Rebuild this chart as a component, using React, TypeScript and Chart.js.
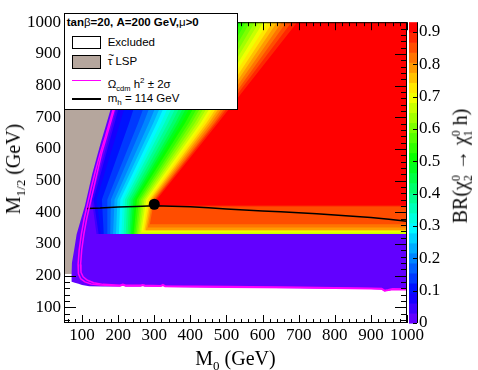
import React, { useEffect, useRef } from 'react';
import { Chart, registerables } from 'chart.js';

Chart.register(...registerables);

// ---------- axis ticks ----------
const xTicks = [100, 200, 300, 400, 500, 600, 700, 800, 900, 1000];
const yTicks = [100, 200, 300, 400, 500, 600, 700, 800, 900, 1000];
const zTicks = [0, 0.1, 0.2, 0.3, 0.4, 0.5, 0.6, 0.7, 0.8, 0.9];

const X_MIN = 50;
const X_MAX = 1000;
const Y_MIN = 50;
const Y_MAX = 1000;
const Z_MAX = 0.93;
const N_LEVELS = 30;

// ---------- BR colour-level contours ----------
// M1/2 rows on which the contour positions were read
const contourRows = [331, 440, 681, 1000];
// M0 of the boundary between level k-1 and level k (k = 1..29) on each row
const contourAt331 = [140, 146, 152, 160, 170, 178, 186, 194, 202, 209, 215, 221, 226, 231, 235, 239, 243, 247, 251, 255, 259, 263, 267, 271, 275, 279, 283, 287, 291];
const contourAt440 = [127, 132, 140, 155, 170, 180, 190, 198, 206, 213, 219, 225, 231, 237, 242, 247, 252, 258, 263, 268, 273, 278, 283, 288, 292, 296, 300, 303, 307];
const contourAt681 = [185, 190, 205, 230, 255, 270, 285, 297, 307, 318, 328, 338, 348, 358, 366, 375, 385, 395, 403, 412, 420, 428, 436, 444, 451, 458, 465, 470, 476];
const contourAt1000 = [255, 265, 285, 320, 355, 378, 400, 418, 432, 447, 462, 476, 490, 503, 516, 528, 540, 553, 565, 578, 590, 602, 615, 628, 640, 653, 666, 680, 696];
// lowest M1/2 at which level k (k = 1..29) appears (horizontal bands near threshold)
const levelFloor = [331, 331, 331, 331, 331, 331, 331, 331, 331, 331, 331, 331, 331, 331, 331, 331, 331, 331, 331, 331, 331, 336, 343, 343, 343, 352, 362, 418, 421];

// ---------- stau LSP region (right edge) ----------
const stauEdgeM0 = [71, 72, 78, 85, 95, 108, 118, 128, 140, 152, 165, 178, 230];
const stauEdgeM12 = [205, 240, 280, 330, 370, 420, 470, 520, 570, 620, 670, 720, 1000];

// ---------- excluded region (lower edge of scanned domain) ----------
const exclEdgeM0 = [71, 71, 80, 90, 100, 120, 160, 205, 213, 221, 262, 268, 274, 318, 324, 330, 500, 700, 900, 930, 938, 948, 960, 1000];
const exclEdgeM12 = [205, 180, 177, 174, 170, 166, 165, 165, 169, 165, 165, 168, 165, 165, 169, 164, 162, 160, 157, 156, 150, 152, 155, 154];

// ---------- Omega h^2 +- 2 sigma lines ----------
const relicLowM0 = [190, 180, 165, 150, 137, 126, 116, 106, 98, 92, 89, 90, 96, 108, 125, 150, 205, 213, 221, 262, 268, 274, 318, 324, 330, 500, 700, 900, 930, 938, 948, 960, 1000];
const relicLowM12 = [740, 700, 640, 585, 530, 480, 430, 380, 330, 280, 235, 205, 190, 180, 173, 170, 167, 170, 167, 167, 169, 167, 166, 169, 165, 163, 161, 158, 157, 151, 153, 156, 155];
const relicHighM0 = [193, 183, 168, 154, 143, 133, 123, 113, 105, 99, 96, 97, 103, 115, 132, 158, 205, 213, 221, 262, 268, 274, 318, 324, 330, 500, 700, 900, 930, 938, 948, 960, 1000];
const relicHighM12 = [740, 700, 640, 585, 530, 480, 430, 380, 330, 280, 235, 210, 196, 185, 177, 172, 169, 172, 169, 169, 171, 169, 168, 171, 167, 165, 163, 160, 159, 153, 155, 158, 157];

// ---------- m_h = 114 GeV line ----------
const mhM0 = [113, 150, 200, 250, 300, 350, 400, 450, 500, 550, 600, 650, 700, 750, 800, 850, 900, 950, 1000];
const mhM12 = [412, 413, 416, 418, 420, 419, 417, 414, 410, 407, 404, 401, 398, 395, 391, 387, 383, 378, 371];

// ---------- benchmark point ----------
const pointM0 = [300];
const pointM12 = [425];

const BROWN = 'rgb(181,166,157)';
const MAGENTA = '#ff00ff';
const SERIF = "'Liberation Serif', 'Times New Roman', serif";
const SANS = "'Liberation Sans', Arial, Helvetica, sans-serif";

function levelColor(k: number) {
  const h = 263 * (1 - k / (N_LEVELS - 1));
  return `hsl(${h.toFixed(1)}, 100%, 50%)`;
}

const contourTable = [contourAt331, contourAt440, contourAt681, contourAt1000];

const heatmapPlugin = {
  id: 'heatmap',
  beforeDatasetsDraw(chart: any) {
    const { ctx, chartArea: a, scales } = chart;
    const x = scales.x;
    const y = scales.y;
    const px = (v: number) => x.getPixelForValue(v);
    const py = (v: number) => y.getPixelForValue(v);
    ctx.save();
    ctx.beginPath();
    ctx.rect(a.left, a.top, a.right - a.left, a.bottom - a.top);
    ctx.clip();

    // level 0 over the whole allowed domain
    ctx.beginPath();
    ctx.moveTo(px(40), py(exclEdgeM12[0]));
    exclEdgeM0.forEach((m0, i) => ctx.lineTo(px(m0), py(exclEdgeM12[i])));
    ctx.lineTo(px(1020), py(exclEdgeM12[exclEdgeM12.length - 1]));
    ctx.lineTo(px(1020), py(1020));
    ctx.lineTo(px(40), py(1020));
    ctx.closePath();
    ctx.fillStyle = levelColor(0);
    ctx.fill();

    // higher levels, nested regions
    for (let k = 1; k < N_LEVELS; k++) {
      ctx.save();
      ctx.beginPath();
      const fy = py(levelFloor[k - 1]);
      ctx.rect(px(40), py(1020), px(1020) - px(40), fy - py(1020));
      ctx.clip();
      ctx.beginPath();
      contourRows.forEach((r, j) => {
        const m0 = contourTable[j][k - 1];
        if (j === 0) ctx.moveTo(px(m0), py(r));
        else ctx.lineTo(px(m0), py(r));
      });
      ctx.lineTo(px(contourAt1000[k - 1]), py(1020));
      ctx.lineTo(px(1020), py(1020));
      ctx.lineTo(px(1020), py(contourRows[0]));
      ctx.closePath();
      ctx.fillStyle = levelColor(k);
      ctx.fill();
      ctx.restore();
    }

    // stau LSP region
    ctx.beginPath();
    ctx.moveTo(px(40), py(stauEdgeM12[0]));
    stauEdgeM0.forEach((m0, i) => ctx.lineTo(px(m0), py(stauEdgeM12[i])));
    ctx.lineTo(px(stauEdgeM0[stauEdgeM0.length - 1]), py(1020));
    ctx.lineTo(px(40), py(1020));
    ctx.closePath();
    ctx.fillStyle = BROWN;
    ctx.fill();
    ctx.restore();
  },
};

const framePlugin = {
  id: 'frame',
  afterDatasetsDraw(chart: any) {
    const { ctx, chartArea: a, scales } = chart;
    const x = scales.x;
    const y = scales.y;
    const z = scales.z;
    ctx.save();
    ctx.strokeStyle = '#000';
    ctx.lineWidth = 1;
    ctx.beginPath();
    for (let v = 60; v <= X_MAX; v += 20) {
      const major = xTicks.includes(v);
      const p = Math.round(x.getPixelForValue(v)) + 0.5;
      const len = major ? 8 : 4;
      ctx.moveTo(p, a.bottom);
      ctx.lineTo(p, a.bottom - len);
      ctx.moveTo(p, a.top);
      ctx.lineTo(p, a.top + len);
    }
    for (let v = 60; v <= Y_MAX; v += 20) {
      const major = yTicks.includes(v);
      const p = Math.round(y.getPixelForValue(v)) + 0.5;
      const len = major ? 12 : 6;
      if (v < 205) {
        ctx.moveTo(a.left, p);
        ctx.lineTo(a.left + len, p);
      }
      ctx.moveTo(a.right, p);
      ctx.lineTo(a.right - len, p);
    }
    ctx.stroke();
    ctx.strokeRect(a.left + 0.5, a.top + 0.5, a.right - a.left - 1, a.bottom - a.top - 1);

    // colour bar
    const cbL = a.right + 2;
    const cbR = a.right + 10;
    for (let k = 0; k < N_LEVELS; k++) {
      const y0 = z.getPixelForValue((k * Z_MAX) / N_LEVELS);
      const y1 = z.getPixelForValue(((k + 1) * Z_MAX) / N_LEVELS);
      ctx.fillStyle = levelColor(k);
      ctx.fillRect(cbL, y1, cbR - cbL, y0 - y1 + 0.6);
    }
    ctx.beginPath();
    ctx.moveTo(cbR + 0.5, a.top);
    ctx.lineTo(cbR + 0.5, a.bottom);
    zTicks.forEach((v) => {
      const p = Math.round(z.getPixelForValue(v)) + 0.5;
      ctx.moveTo(cbR, p);
      ctx.lineTo(cbR - 4, p);
    });
    ctx.stroke();
    ctx.restore();
  },
};

const pts = (xs: number[], ys: number[]) => xs.map((v, i) => ({ x: v, y: ys[i] }));

export default function App() {
  const ref = useRef<HTMLCanvasElement>(null);

  useEffect(() => {
    const canvas = ref.current;
    if (!canvas) return;
    const tickFont = { family: SERIF, size: 17 };
    const chart = new Chart(canvas, {
      type: 'scatter',
      data: {
        datasets: [
          { data: pts(relicLowM0, relicLowM12), showLine: true, borderColor: MAGENTA, borderWidth: 1.5, pointRadius: 0, fill: false },
          { data: pts(relicHighM0, relicHighM12), showLine: true, borderColor: MAGENTA, borderWidth: 1.5, pointRadius: 0, fill: false },
          { data: pts(mhM0, mhM12), showLine: true, borderColor: '#000', borderWidth: 1.5, pointRadius: 0, fill: false },
          { data: pts(pointM0, pointM12), showLine: false, pointRadius: 5.5, backgroundColor: '#000', borderColor: '#000', borderWidth: 0 },
        ],
      } as any,
      options: {
        responsive: false,
        animation: false,
        events: [],
        layout: { padding: { top: 13, left: 0, right: 0, bottom: 0 } },
        plugins: { legend: { display: false }, tooltip: { enabled: false } },
        scales: {
          x: {
            type: 'linear',
            position: 'bottom',
            min: X_MIN,
            max: X_MAX,
            grid: { display: false, drawTicks: false },
            border: { display: false },
            afterBuildTicks: (s: any) => { s.ticks = xTicks.map((v) => ({ value: v })); },
            afterFit: (s: any) => { s.height = 47; },
            ticks: { color: '#000', font: tickFont, padding: 2, autoSkip: false, maxRotation: 0, callback: (v: any) => String(v) },
          },
          y: {
            type: 'linear',
            position: 'left',
            min: Y_MIN,
            max: Y_MAX,
            grid: { display: false, drawTicks: false },
            border: { display: false },
            afterBuildTicks: (s: any) => { s.ticks = yTicks.map((v) => ({ value: v })); },
            afterFit: (s: any) => { s.width = 64; },
            ticks: { color: '#000', font: tickFont, padding: 3, autoSkip: false, callback: (v: any) => String(v) },
          },
          z: {
            type: 'linear',
            axis: 'y',
            position: 'right',
            min: 0,
            max: Z_MAX,
            grid: { display: false, drawTicks: false },
            border: { display: false },
            afterBuildTicks: (s: any) => { s.ticks = zTicks.map((v) => ({ value: v })); },
            afterFit: (s: any) => { s.width = 71; },
            ticks: { color: '#000', font: tickFont, padding: 12, autoSkip: false, callback: (v: any) => String(v) },
          },
        },
      } as any,
      plugins: [heatmapPlugin, framePlugin],
    });
    return () => chart.destroy();
  }, []);

  const legText: React.CSSProperties = {
    position: 'absolute',
    left: 42.7,
    fontSize: 11.5,
    lineHeight: '13px',
    whiteSpace: 'nowrap',
    color: '#000',
  };

  return (
    <div style={{ position: 'fixed', left: 0, top: 0, width: 478, height: 370, background: '#fff', overflow: 'hidden' }}>
      <canvas ref={ref} width={478} height={370} style={{ position: 'absolute', left: 0, top: 0 }} />

      {/* legend */}
      <div style={{ position: 'absolute', left: 64, top: 13, width: 174, height: 97, boxSizing: 'border-box', border: '1px solid #000', background: '#fff', fontFamily: SANS }}>
        <div style={{ ...legText, left: 1.7, top: 2.2, fontWeight: 'bold' }}>
          tan<span style={{ fontWeight: 'normal' }}>β</span>=20, A=200 GeV,<span style={{ fontWeight: 'normal' }}>μ</span>&gt;0
        </div>
        <div style={{ position: 'absolute', left: 6.7, top: 22, width: 29, height: 13, boxSizing: 'border-box', border: '1px solid #000', background: '#fff' }} />
        <div style={{ ...legText, top: 22.2 }}>Excluded</div>
        <div style={{ position: 'absolute', left: 6.7, top: 41, width: 29, height: 13.5, boxSizing: 'border-box', border: '1px solid #000', background: BROWN }} />
        <div style={{ ...legText, top: 41.2 }}>
          <span style={{ position: 'relative', display: 'inline-block' }}>
            τ
            <span style={{ position: 'absolute', left: 0.5, top: -6, fontSize: 10 }}>~</span>
          </span>{' '}LSP
        </div>
        <div style={{ position: 'absolute', left: 6.7, top: 65.5, width: 29, height: 1.5, background: MAGENTA }} />
        <div style={{ ...legText, top: 59.5 }}>
          Ω<span style={{ fontSize: 7.5, verticalAlign: -3 }}>cdm</span> h<span style={{ fontSize: 8, verticalAlign: 5 }}>2</span> ± 2σ
        </div>
        <div style={{ position: 'absolute', left: 6.7, top: 84, width: 29, height: 1.5, background: '#000' }} />
        <div style={{ ...legText, top: 78.2 }}>
          m<span style={{ fontSize: 8, verticalAlign: -3 }}>h</span> = 114 GeV
        </div>
      </div>

      {/* x title */}
      <div style={{ position: 'absolute', left: 235.5, top: 348, transform: 'translateX(-50%)', fontFamily: SERIF, fontSize: 20, lineHeight: '20px', whiteSpace: 'nowrap', color: '#000' }}>
        M<span style={{ fontSize: 13, verticalAlign: -5 }}>0</span> (GeV)
      </div>

      {/* y title */}
      <div style={{ position: 'absolute', left: 16.5, top: 169, transform: 'translate(-50%, -50%) rotate(-90deg)', fontFamily: SERIF, fontSize: 20, lineHeight: '20px', whiteSpace: 'nowrap', color: '#000' }}>
        M<span style={{ fontSize: 13, verticalAlign: -5 }}>1/2</span> (GeV)
      </div>

      {/* colour-bar title */}
      <div style={{ position: 'absolute', left: 462, top: 166, transform: 'translate(-50%, -50%) rotate(-90deg)', fontFamily: SERIF, fontSize: 20, lineHeight: '20px', whiteSpace: 'nowrap', color: '#000' }}>
        BR(χ
        <span style={{ display: 'inline-block', verticalAlign: 'middle', lineHeight: '12px', fontSize: 12, textAlign: 'left' }}>
          0<br />2
        </span>
        {' '}→ χ
        <span style={{ display: 'inline-block', verticalAlign: 'middle', lineHeight: '12px', fontSize: 12, textAlign: 'left' }}>
          0<br />1
        </span>
        {' '}h)
      </div>
    </div>
  );
}
